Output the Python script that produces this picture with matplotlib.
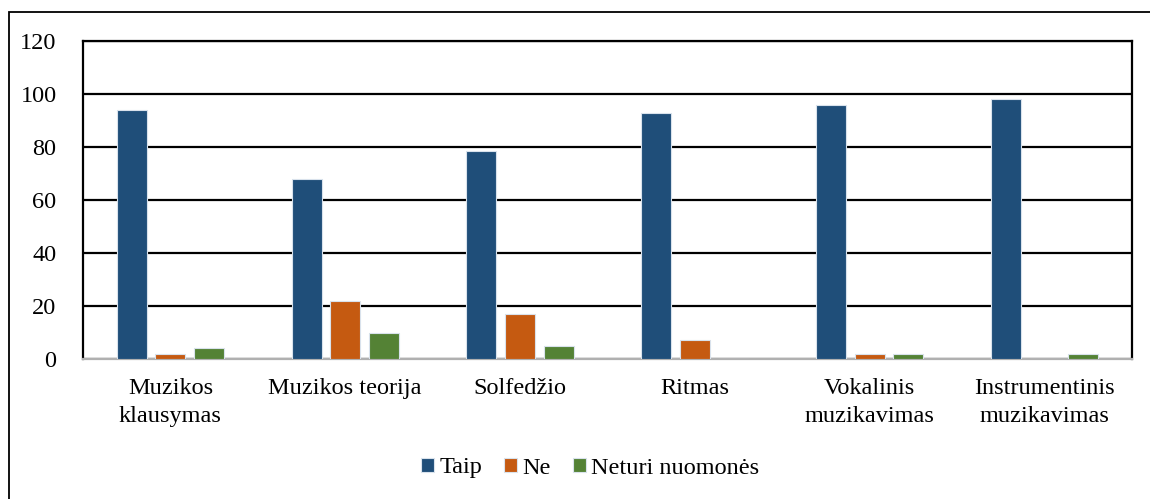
import matplotlib
matplotlib.use("Agg")
import matplotlib.pyplot as plt
import numpy as np
from matplotlib.patches import Rectangle

categories = ["Muzikos\nklausymas", "Muzikos teorija", "Solfedžio", "Ritmas",
              "Vokalinis\nmuzikavimas", "Instrumentinis\nmuzikavimas"]
series_names = ["Taip", "Ne", "Neturi nuomonės"]
taip = [94, 68, 78.5, 93, 96, 98]
ne = [2, 22, 17, 7, 2, 0]
neturi = [4, 10, 5, 0, 2, 2]
yticks = [0, 20, 40, 60, 80, 100, 120]
colors = ["#1F4E79", "#C55A11", "#548235"]

plt.rcParams['font.family'] = ['Liberation Serif', 'DejaVu Serif']

W, H = 1150, 499
fig = plt.figure(figsize=(W / 100, H / 100), dpi=100)
ax = fig.add_axes([83 / W, 1 - 359 / H, (1132 - 83) / W, (359 - 41) / H])

x = np.arange(len(categories))
bw = 0.172
off = 0.221
for i, (vals, name, c) in enumerate(zip([taip, ne, neturi], series_names, colors)):
    ax.bar(x + (i - 1) * off, vals, width=bw, color=c, edgecolor="#d9e2ec",
           linewidth=0.8, label=name, zorder=3)

fs = 17.5
ax.set_xlim(-0.5, len(categories) - 0.5)
ax.set_ylim(0, 120)
ax.set_yticks(yticks)
ax.set_yticklabels([str(t) for t in yticks], fontsize=fs)
ax.set_xticks(x)
ax.set_xticklabels(categories, fontsize=fs, linespacing=1.38)
ax.tick_params(axis='both', length=0)
ax.tick_params(axis='y', pad=19)
ax.tick_params(axis='x', pad=14)
ax.yaxis.grid(True, color="black", linewidth=1.6, zorder=1)
ax.set_axisbelow(True)
for s in ["left", "right", "top"]:
    ax.spines[s].set_color("black")
    ax.spines[s].set_linewidth(1.6)
ax.spines["bottom"].set_color("#b0b0b0")
ax.spines["bottom"].set_linewidth(1.6)

fig.legend(loc="center", bbox_to_anchor=(590 / W, 1 - 468 / H), ncol=3,
           frameon=False, fontsize=fs, handlelength=0.55, handleheight=0.55,
           handletextpad=0.2, columnspacing=0.9)

fig.patches.append(Rectangle((9 / W, -0.1), 1.2, 1 - 12 / H + 0.1,
                             transform=fig.transFigure, fill=False,
                             edgecolor="black", linewidth=1.3))

fig.savefig("out.png", dpi=100)
